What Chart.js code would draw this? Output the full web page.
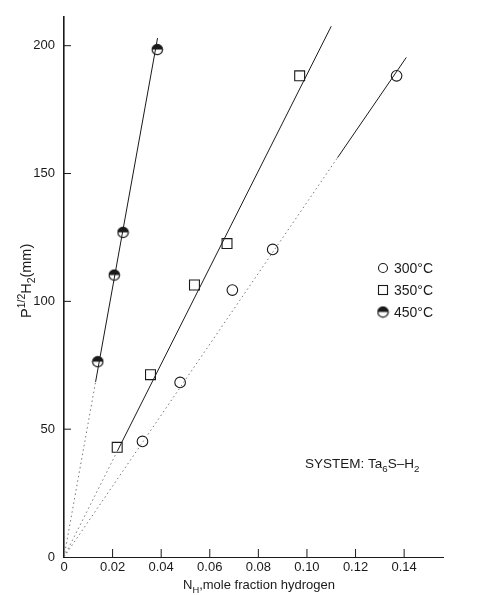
<!DOCTYPE html>
<html>
<head>
<meta charset="utf-8">
<script src="https://cdn.jsdelivr.net/npm/chart.js@4.4.1/dist/chart.umd.min.js"></script>
<style>
  html, body { margin: 0; padding: 0; background: #fff; }
  #wrap { width: 479px; height: 595px; }
</style>
</head>
<body>
<div id="wrap"><canvas id="chart"></canvas></div>
<script>
const x300 = [0.0323, 0.0478, 0.0693, 0.0859, 0.1369];
const y300 = [45.2, 68.3, 104.4, 120.3, 188.2];
const x350 = [0.0219, 0.0356, 0.0537, 0.0671, 0.0970];
const y350 = [42.9, 71.3, 106.4, 122.6, 188.2];
const x450 = [0.0139, 0.0207, 0.0243, 0.0384];
const y450 = [76.4, 110.3, 127.0, 198.5];

// drawn lines: origin, where the dotted part ends, end of line
const fitX300 = [0, 0.1126, 0.1409];
const fitY300 = [0, 156.2, 195.4];
const fitX350 = [0, 0.0220, 0.1100];
const fitY350 = [0, 41.5, 207.6];
const fitX450 = [0, 0.0130, 0.0385];
const fitY450 = [0, 68.5, 203.0];

const xTicks = [0, 0.02, 0.04, 0.06, 0.08, 0.10, 0.12, 0.14];
const yTicks = [0, 50, 100, 150, 200];
const legendLabels = ['300\u00b0C', '350\u00b0C', '450\u00b0C'];

const ink = '#1a1a1a';
const font = '"Liberation Sans", Arial, sans-serif';

function pts(xs, ys) {
  return xs.map((x, i) => ({ x: x, y: ys[i] }));
}

// half filled circle marker (top half black)
function halfCircle() {
  const c = document.createElement('canvas');
  c.width = 13; c.height = 13;
  const g = c.getContext('2d');
  g.beginPath();
  g.arc(6.5, 6.5, 5.2, 0, Math.PI * 2);
  g.fillStyle = '#fff';
  g.fill();
  g.beginPath();
  g.arc(6.5, 6.5, 5.2, Math.PI, 0);
  g.closePath();
  g.fillStyle = ink;
  g.fill();
  g.beginPath();
  g.arc(6.5, 6.5, 5.2, 0, Math.PI * 2);
  g.strokeStyle = ink;
  g.lineWidth = 1.2;
  g.stroke();
  return c;
}
const half = halfCircle();

function fitLine(xs, ys) {
  return {
    type: 'line',
    data: pts(xs, ys),
    borderColor: ink,
    borderWidth: 1,
    pointRadius: 0,
    fill: false,
    tension: 0,
    segment: {
      borderDash: ctx => ctx.p0DataIndex === 0 ? [1.5, 3] : undefined,
      borderColor: ctx => ctx.p0DataIndex === 0 ? '#777' : ink
    }
  };
}

function markers(xs, ys, style, r) {
  return {
    type: 'scatter',
    data: pts(xs, ys),
    pointStyle: style,
    pointRadius: r,
    pointBorderColor: ink,
    pointBackgroundColor: '#fff',
    pointBorderWidth: 1.1
  };
}

// text with sub/superscripts: parts = [[text, 'n'|'sub'|'sup'], ...]
function richText(g, parts, x, y, size) {
  let cx = x;
  parts.forEach(p => {
    const s = p[1] === 'n' ? size : size * 0.72;
    const dy = p[1] === 'sub' ? size * 0.3 : (p[1] === 'sup' ? -size * 0.4 : 0);
    g.font = s + 'px ' + font;
    g.fillText(p[0], cx, y + dy);
    cx += g.measureText(p[0]).width;
  });
}

const extras = {
  id: 'extras',
  afterDraw(chart) {
    const g = chart.ctx;
    const xs = chart.scales.x, ys = chart.scales.y;
    g.save();
    // inward tick marks
    g.strokeStyle = ink;
    g.lineWidth = 1;
    xTicks.slice(1).forEach(v => {
      const px = xs.getPixelForValue(v);
      g.beginPath();
      g.moveTo(px, ys.bottom);
      g.lineTo(px, ys.bottom - 8);
      g.stroke();
    });
    yTicks.slice(1).forEach(v => {
      const py = ys.getPixelForValue(v);
      g.beginPath();
      g.moveTo(xs.left, py);
      g.lineTo(xs.left + 7, py);
      g.stroke();
    });

    g.fillStyle = ink;
    g.textBaseline = 'alphabetic';
    g.textAlign = 'left';
    // x title
    richText(g, [['N', 'n'], ['H', 'sub'], [',mole fraction hydrogen', 'n']], 183, 589, 13);
    // system label
    richText(g, [['SYSTEM: Ta', 'n'], ['6', 'sub'], ['S\u2013H', 'n'], ['2', 'sub']], 305, 468, 13.5);
    // y title, rotated
    g.save();
    g.translate(31, 318);
    g.rotate(-Math.PI / 2);
    richText(g, [['P', 'n'], ['1/2', 'sup'], ['H', 'n'], ['2', 'sub'], ['(mm)', 'n']], 0, 0, 14.5);
    g.restore();

    // legend
    const sets = [1, 3, 5];
    sets.forEach((di, i) => {
      const cy = 268 + i * 22;
      const ds = chart.data.datasets[di];
      const cx = 383;
      g.lineWidth = 1.1;
      g.strokeStyle = ink;
      if (ds.pointStyle === 'rect') {
        g.fillStyle = '#fff';
        g.fillRect(cx - 4.5, cy - 4.5, 9, 9);
        g.strokeRect(cx - 4.5, cy - 4.5, 9, 9);
      } else if (ds.pointStyle === 'circle') {
        g.beginPath();
        g.arc(cx, cy, 4.5, 0, Math.PI * 2);
        g.fillStyle = '#fff';
        g.fill();
        g.stroke();
      } else {
        g.drawImage(half, cx - 6.5, cy - 6.5);
      }
      g.fillStyle = ink;
      g.font = '14px ' + font;
      g.textBaseline = 'middle';
      g.fillText(legendLabels[i], cx + 11, cy + 1);
    });
    g.restore();
  }
};

new Chart(document.getElementById('chart'), {
  data: {
    datasets: [
      fitLine(fitX300, fitY300),
      markers(x300, y300, 'circle', 5.3),
      fitLine(fitX350, fitY350),
      markers(x350, y350, 'rect', 7),
      fitLine(fitX450, fitY450),
      markers(x450, y450, half, 5)
    ]
  },
  options: {
    responsive: true,
    maintainAspectRatio: false,
    animation: false,
    layout: { padding: { top: 13, right: 36, left: 0, bottom: 0 } },
    plugins: { legend: { display: false }, tooltip: { enabled: false } },
    scales: {
      x: {
        type: 'linear',
        min: 0,
        max: 0.156,
        afterFit: s => { s.height = 38; },
        afterBuildTicks: s => { s.ticks = xTicks.map(v => ({ value: v })); },
        ticks: {
          padding: 3,
          color: ink,
          font: { family: font, size: 13 },
          maxRotation: 0,
          callback: v => v === 0 ? '0' : v.toFixed(2)
        },
        grid: { display: false, drawTicks: false },
        border: { display: true, color: ink, width: 1 }
      },
      y: {
        type: 'linear',
        min: 0,
        max: 211.3,
        afterFit: s => { s.width = 64; },
        afterBuildTicks: s => { s.ticks = yTicks.map(v => ({ value: v })); },
        ticks: {
          padding: 9,
          color: ink,
          font: { family: font, size: 13 },
          callback: v => String(v)
        },
        grid: { display: false, drawTicks: false },
        border: { display: true, color: ink, width: 1.6 }
      }
    }
  },
  plugins: [extras]
});
</script>
</body>
</html>
